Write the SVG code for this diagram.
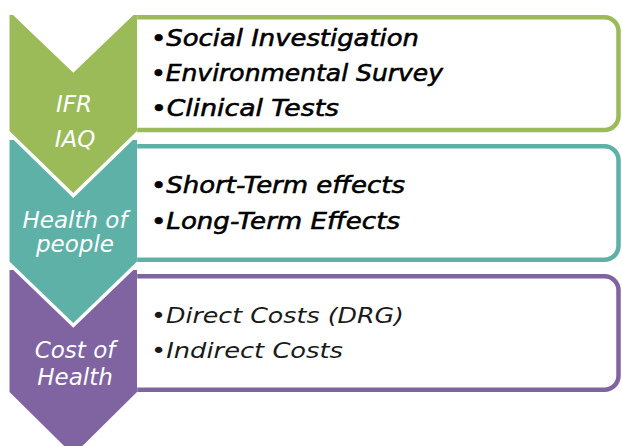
<svg xmlns="http://www.w3.org/2000/svg" width="622" height="446" viewBox="0 0 622 446">
<style>
.box{fill:#fff;stroke-width:4.5}
.chev{stroke:#fff;stroke-width:7;paint-order:stroke;stroke-linejoin:miter}
.lbl{font-family:"DejaVu Sans",Verdana,sans-serif;font-style:italic;font-size:23px;fill:#fff;text-anchor:middle}
.item{font-family:"DejaVu Sans",Verdana,sans-serif;font-style:italic;font-size:22.5px;fill:#000;stroke:#000;stroke-width:0.55}
.item2{font-family:"DejaVu Sans",Verdana,sans-serif;font-style:italic;font-size:21.8px;fill:#1a1a1a}
</style>
<defs>
<clipPath id="col"><rect x="0" y="0" width="137.2" height="446"/></clipPath>
<clipPath id="boxes"><rect x="137" y="0" width="485" height="446"/></clipPath>
</defs>
<rect width="622" height="446" fill="#fff"/>
<g clip-path="url(#boxes)">
<g id="box-green"><rect class="box" x="110" y="17.2" width="508.5" height="112.8" rx="14" stroke="#9BBB59"/></g>
<g id="box-teal"><rect class="box" x="110" y="146.2" width="508.5" height="113.6" rx="14" stroke="#5EB1A7"/></g>
<g id="box-purple"><rect class="box" x="110" y="276.2" width="508.5" height="113.6" rx="14" stroke="#8064A2"/></g>
</g>
<g clip-path="url(#col)">
<g id="chev-purple"><polygon class="chev" fill="#8064A2" points="9.5,270 137,270 137,392 73.3,455 9.5,392"/></g>
<g id="chev-teal"><polygon class="chev" fill="#5EB1A7" points="9.5,140 137,140 137,261.5 73.3,323 9.5,261.5"/></g>
<g id="chev-green"><polygon class="chev" fill="#9BBB59" points="9.5,15 13,15 73.3,72.7 133.5,15 137,15 137,131 73.3,193 9.5,131"/></g>
</g>
<g id="labels">
<text class="lbl" x="74" y="111.5">IFR</text>
<text class="lbl" x="75" y="147">IAQ</text>
<text class="lbl" x="75" y="228.3">Health of</text>
<text class="lbl" x="75" y="251.5">people</text>
<text class="lbl" x="75" y="358.3">Cost of</text>
<text class="lbl" x="75" y="385">Health</text>
</g>
<g id="items-green">
<text class="item" x="151" y="45.5" textLength="268" lengthAdjust="spacingAndGlyphs">•Social Investigation</text>
<text class="item" x="151" y="80.5" textLength="292" lengthAdjust="spacingAndGlyphs">•Environmental Survey</text>
<text class="item" x="151" y="116" textLength="188" lengthAdjust="spacingAndGlyphs">•Clinical Tests</text>
</g>
<g id="items-teal">
<text class="item" x="151" y="193.3" textLength="254" lengthAdjust="spacingAndGlyphs">•Short-Term effects</text>
<text class="item" x="151" y="229" textLength="249" lengthAdjust="spacingAndGlyphs">•Long-Term Effects</text>
</g>
<g id="items-purple">
<text class="item2" x="151" y="322.5" textLength="253" lengthAdjust="spacingAndGlyphs">•Direct Costs (DRG)</text>
<text class="item2" x="151" y="358.3" textLength="192" lengthAdjust="spacingAndGlyphs">•Indirect Costs</text>
</g>
</svg>
